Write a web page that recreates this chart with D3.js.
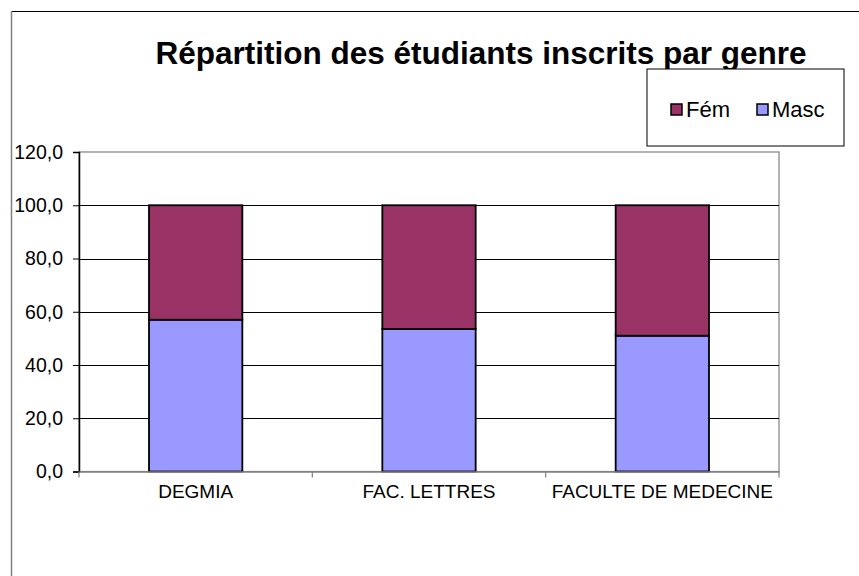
<!DOCTYPE html>
<html>
<head>
<meta charset="utf-8">
<script src="https://cdn.jsdelivr.net/npm/d3@7"></script>
<style>
html,body{margin:0;padding:0;background:#fff;}
svg{display:block;}
text{font-family:"Liberation Sans",Arial,sans-serif;fill:#000;}
</style>
</head>
<body>
<svg id="chart" width="859" height="576"></svg>
<script>
const categories = ["DEGMIA", "FAC. LETTRES", "FACULTE DE MEDECINE"];
const masc = [57.0, 53.5, 51.0];
const fem = [43.0, 46.5, 49.0];
const seriesNames = ["Fém", "Masc"];
const seriesColors = ["#993366", "#9999FF"];
const yTicks = [0, 20, 40, 60, 80, 100, 120];
const title = "Répartition des étudiants inscrits par genre";

const svg = d3.select("#chart");
const W = 859, H = 576;
const plot = {left: 79, right: 779, top: 152, bottom: 471.5};

// outer frame
svg.append("line").attr("x1", 11.5).attr("x2", W + 5).attr("y1", 11.5).attr("y2", 11.5)
  .attr("stroke", "#000").attr("stroke-width", 1);
svg.append("line").attr("x1", 11.5).attr("x2", 11.5).attr("y1", 11.5).attr("y2", H + 5)
  .attr("stroke", "#808080").attr("stroke-width", 1.5);

// title
svg.append("text").attr("x", 481).attr("y", 63.5).attr("text-anchor", "middle")
  .style("font-size", "31.5px").style("font-weight", "bold").text(title);

const x = d3.scaleBand().domain(categories).range([plot.left, plot.right]).paddingInner(0).paddingOuter(0);
const y = d3.scaleLinear().domain([0, 120]).range([plot.bottom, plot.top]);

// plot area border (gray)
svg.append("rect").attr("x", plot.left).attr("y", plot.top)
  .attr("width", plot.right - plot.left).attr("height", plot.bottom - plot.top)
  .attr("fill", "#fff").attr("stroke", "#808080").attr("stroke-width", 1.2);

// gridlines
svg.append("g").selectAll("line").data(yTicks.filter(d => d > 0 && d < 120)).join("line")
  .attr("x1", plot.left).attr("x2", plot.right)
  .attr("y1", d => Math.round(y(d)) + 0.5).attr("y2", d => Math.round(y(d)) + 0.5)
  .attr("stroke", "#000").attr("stroke-width", 1);

// bars
const bw = x.bandwidth() / 2.5;
const stackData = categories.map((c, i) => ({cat: c, Masc: masc[i], "Fém": fem[i]}));
const stack = d3.stack().keys(["Masc", "Fém"])(stackData);
const colorOf = {"Fém": seriesColors[0], "Masc": seriesColors[1]};
svg.append("g").selectAll("g").data(stack).join("g")
  .attr("fill", d => colorOf[d.key])
  .selectAll("rect").data(d => d).join("rect")
  .attr("x", d => x(d.data.cat) + (x.bandwidth() - bw) / 2)
  .attr("width", bw)
  .attr("y", d => y(d[1]))
  .attr("height", d => y(d[0]) - y(d[1]))
  .attr("stroke", "#000").attr("stroke-width", 1.8);

// y axis
const yAxis = d3.axisLeft(y).tickValues(yTicks).tickSize(6).tickPadding(10)
  .tickFormat(d => d3.format(".1f")(d).replace(".", ","));
const gy = svg.append("g").attr("transform", `translate(${plot.left},0)`).call(yAxis);
gy.select(".domain").attr("stroke", "#000").attr("stroke-width", 1.5);
gy.selectAll(".tick line").attr("stroke", "#000");
gy.selectAll(".tick text").style("font-size", "19.5px").attr("font-family", null);

// x axis
const xAxis = d3.axisBottom(x).tickSize(0).tickPadding(13);
const gx = svg.append("g").attr("transform", `translate(0,${plot.bottom})`).call(xAxis);
gx.select(".domain").attr("stroke", "#808080").attr("stroke-width", 1.5);
gx.selectAll(".tick text").style("font-size", "19px").attr("font-family", null);
// category boundary tick marks
const bounds = categories.map(c => x(c)).concat([plot.right]);
svg.append("g").selectAll("line").data(bounds).join("line")
  .attr("x1", d => d).attr("x2", d => d)
  .attr("y1", plot.bottom).attr("y2", plot.bottom + 6)
  .attr("stroke", "#808080").attr("stroke-width", 1.2);

// legend
const lg = svg.append("g");
lg.append("rect").attr("x", 647).attr("y", 69).attr("width", 197).attr("height", 77)
  .attr("fill", "#fff").attr("stroke", "#000").attr("stroke-width", 1);
const legX = [671, 757];
seriesNames.forEach((n, i) => {
  lg.append("rect").attr("x", legX[i]).attr("y", 104).attr("width", 11).attr("height", 11)
    .attr("fill", seriesColors[i]).attr("stroke", "#000").attr("stroke-width", 1.5);
  lg.append("text").attr("x", legX[i] + 15).attr("y", 117).style("font-size", "22px").text(n);
});
</script>
</body>
</html>
